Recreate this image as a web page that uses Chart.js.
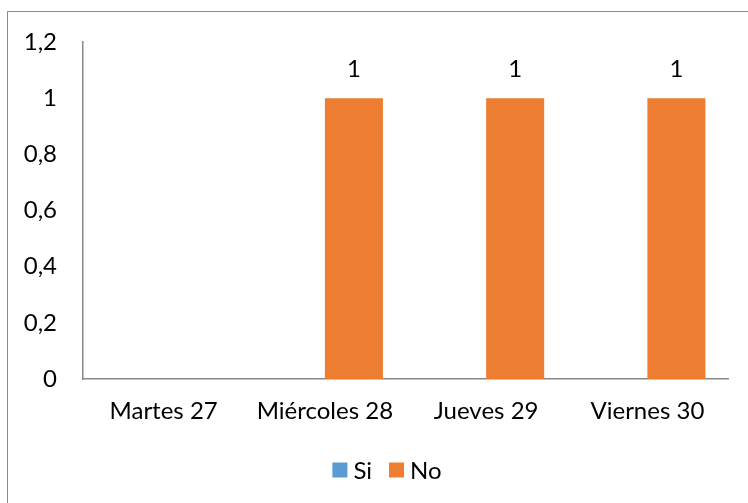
<!DOCTYPE html>
<html>
<head>
<meta charset="utf-8">
<script src="https://cdn.jsdelivr.net/npm/chart.js@4.4.1/dist/chart.umd.min.js"></script>
<style>
  html, body { margin: 0; padding: 0; background: #fff; overflow: hidden; }
  .frame { position: absolute; left: 7px; top: 11px; width: 900px; height: 700px; border: 1px solid #8c8c8c; box-sizing: border-box; }
  .wrap { position: absolute; left: 0; top: 0; width: 748px; height: 503px; }
</style>
</head>
<body>
<div class="frame"></div>
<div class="wrap"><canvas id="c1" width="748" height="503"></canvas></div>
<script>
/* Si / No por día */
const DAYS = ['Martes 27', 'Miércoles 28', 'Jueves 29', 'Viernes 30'];
const SI = [0, 0, 0, 0];
const NO = [0, 1, 1, 1];
const Y_MIN = 0, Y_MAX = 1.2, Y_STEP = 0.2;

const FONT = 'Lato, "Open Sans", sans-serif';
const fmt = v => String(Math.round(v * 10) / 10).replace('.', ',');

// value labels above the bars (only non-zero)
const valueLabels = {
  id: 'valueLabels',
  afterDatasetsDraw(chart) {
    const ctx = chart.ctx;
    ctx.save();
    ctx.font = '24px ' + FONT;
    ctx.fillStyle = '#000';
    ctx.textAlign = 'center';
    ctx.textBaseline = 'bottom';
    chart.data.datasets.forEach((ds, i) => {
      chart.getDatasetMeta(i).data.forEach((bar, j) => {
        const v = ds.data[j];
        if (v > 0) ctx.fillText(fmt(v), bar.x, bar.y - 17);
      });
    });
    ctx.restore();
  }
};

// compact legend, Excel style (small gap between swatch and text)
const bottomLegend = {
  id: 'bottomLegend',
  afterDraw(chart) {
    const ctx = chart.ctx, sw = 15, gap = 6, sep = 17, cy = 470, cx = 387;
    ctx.save();
    ctx.font = '24px ' + FONT;
    ctx.textBaseline = 'middle';
    const items = chart.data.datasets.map(d => ({ t: d.label, c: d.backgroundColor, w: ctx.measureText(d.label).width }));
    const total = items.reduce((s, it) => s + sw + gap + it.w, 0) + sep * (items.length - 1);
    let x = cx - total / 2;
    items.forEach(it => {
      ctx.fillStyle = it.c;
      ctx.fillRect(x, cy - sw / 2, sw, sw);
      ctx.fillStyle = '#000';
      ctx.fillText(it.t, x + sw + gap, cy + 1);
      x += sw + gap + it.w + sep;
    });
    ctx.restore();
  }
};

new Chart(document.getElementById('c1'), {
  type: 'bar',
  data: {
    labels: DAYS,
    datasets: [
      { label: 'Si', data: SI, backgroundColor: '#5B9BD5' },
      { label: 'No', data: NO, backgroundColor: '#ED7D31' }
    ]
  },
  options: {
    responsive: false, animation: false,
    categoryPercentage: 0.72, barPercentage: 1,
    layout: { padding: { top: 42, right: 20, bottom: 52, left: 0 } },
    plugins: { tooltip: { enabled: false }, legend: { display: false } },
    scales: {
      x: {
        grid: { display: false, drawTicks: false },
        border: { display: true, color: '#888', width: 1.5 },
        ticks: { color: '#000', font: { family: FONT, size: 24 }, padding: 18, maxRotation: 0 },
        afterFit: s => { s.height = 72; }
      },
      y: {
        min: Y_MIN, max: Y_MAX,
        grid: { display: false, drawTicks: false },
        border: { display: true, color: '#888', width: 1.5 },
        ticks: { stepSize: Y_STEP, color: '#000', font: { family: FONT, size: 24 }, padding: 26, callback: v => fmt(v) },
        afterFit: s => { s.width = 83; }
      }
    }
  },
  plugins: [valueLabels, bottomLegend]
});
</script>
</body>
</html>
